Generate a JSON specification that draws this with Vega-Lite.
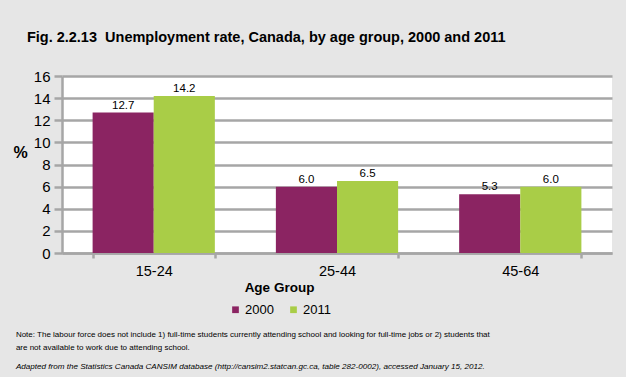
{
  "$schema": "https://vega.github.io/schema/vega-lite/v6.json",
  "background": "#e6e6e6",
  "padding": {"left": 12, "top": 29, "right": 15, "bottom": 5},
  "title": {
    "text": "Fig. 2.2.13\u00a0 Unemployment rate, Canada, by age group, 2000 and 2011",
    "anchor": "start",
    "frame": "bounds",
    "dx": 14,
    "fontSize": 14.5,
    "fontWeight": "bold",
    "color": "#000000",
    "offset": 24
  },
  "resolve": {"scale": {"color": "independent"}, "legend": {"color": "independent"}},
  "vconcat": [
    {
      "width": 550,
      "height": 177,
      "title": {
        "text": [
          "Note: The labour force does not include 1) full-time students currently attending school and looking for full-time jobs or 2) students that",
          "are not available to work due to attending school."
        ],
        "subtitle": "Adapted from the Statistics Canada CANSIM database (http://cansim2.statcan.gc.ca, table 282-0002), accessed January 15, 2012.",
        "orient": "bottom",
        "anchor": "start",
        "frame": "bounds",
        "dx": 3,
        "offset": 14,
        "fontSize": 8,
        "fontWeight": "normal",
        "lineHeight": 13,
        "color": "#000000",
        "subtitleFontSize": 8.1,
        "subtitleFontStyle": "italic",
        "subtitleColor": "#000000",
        "subtitlePadding": 11
      },
      "data": {
        "values": [
          {"age": "15-24", "year": "2000", "rate": 12.7},
          {"age": "15-24", "year": "2011", "rate": 14.2},
          {"age": "25-44", "year": "2000", "rate": 6.0},
          {"age": "25-44", "year": "2011", "rate": 6.5},
          {"age": "45-64", "year": "2000", "rate": 5.3},
          {"age": "45-64", "year": "2011", "rate": 6.0}
        ]
      },
      "encoding": {
        "x": {
          "field": "age",
          "type": "nominal",
          "title": "Age Group",
          "scale": {"paddingInner": 0.333, "paddingOuter": 0.167},
          "axis": {
            "labelAngle": 0,
            "tickBand": "extent",
            "tickSize": 5,
            "labelPadding": 6,
            "labelFontSize": 14.5,
            "titleFontSize": 13.5,
            "titleFontWeight": "bold",
            "titlePadding": 3,
            "titleX": 217
          }
        },
        "xOffset": {"field": "year", "type": "nominal", "scale": {"paddingInner": 0}},
        "y": {
          "field": "rate",
          "type": "quantitative",
          "title": "%",
          "scale": {"domain": [0, 16], "nice": false},
          "axis": {
            "values": [0, 2, 4, 6, 8, 10, 12, 14, 16],
            "grid": true,
            "tickSize": 8,
            "labelPadding": 4,
            "labelFontSize": 15,
            "titleAngle": 0,
            "titleFontSize": 16,
            "titleFontWeight": "bold",
            "titleAlign": "center",
            "titleBaseline": "middle",
            "titleX": -42,
            "titleY": 76
          }
        }
      },
      "layer": [
        {
          "mark": {"type": "bar"},
          "encoding": {
            "color": {
              "field": "year",
              "type": "nominal",
              "title": null,
              "scale": {"domain": ["2000", "2011"], "range": ["#8b2462", "#a9cd47"]},
              "legend": {
                "orient": "none",
                "direction": "horizontal",
                "legendX": 167,
                "legendY": 227,
                "symbolType": "square",
                "symbolSize": 45,
                "symbolStrokeWidth": 0,
                "symbolOpacity": 1,
                "labelFontSize": 13,
                "labelColor": "#000000",
                "labelOffset": 3,
                "columnPadding": 13
              }
            }
          }
        },
        {
          "mark": {"type": "text", "baseline": "bottom", "dy": -2, "fontSize": 11.5, "color": "#000000"},
          "encoding": {
            "text": {"field": "rate", "type": "quantitative", "format": ".1f"}
          }
        }
      ]
    }
  ],
  "config": {
    "font": "Liberation Sans, Arial, sans-serif",
    "view": {"fill": "#ffffff", "stroke": null},
    "axis": {
      "domainColor": "#a6a6a6",
      "domainWidth": 2.5,
      "tickColor": "#a6a6a6",
      "tickWidth": 2.5,
      "gridColor": "#a6a6a6",
      "gridWidth": 2.5,
      "labelColor": "#000000",
      "titleColor": "#000000"
    }
  }
}
